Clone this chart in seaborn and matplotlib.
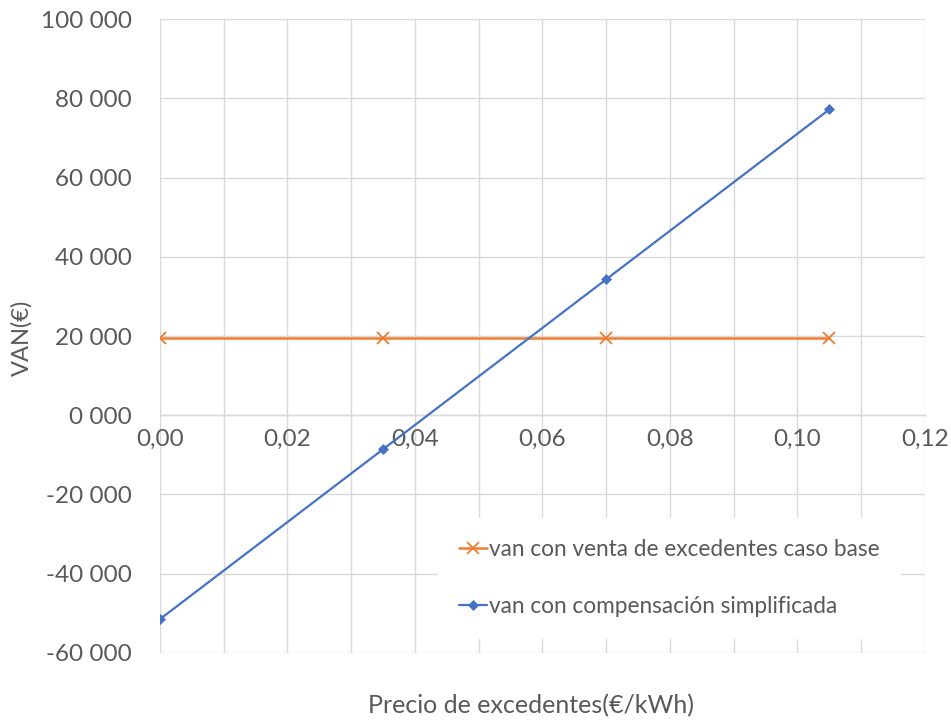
import matplotlib
matplotlib.use("Agg")
import matplotlib.pyplot as plt
import matplotlib.ticker as mticker
import pandas as pd
import seaborn as sns

# Precio de excedentes (€/kWh)
precio = [0.0, 0.035, 0.07, 0.105]
# VAN de cada escenario (€)
van_venta_base = [19400, 19400, 19400, 19400]
van_compensacion = [-51500, -8600, 34300, 77200]

serie_base = "van con venta de excedentes caso base"
serie_comp = "van con compensación simplificada"

df_base = pd.DataFrame({"precio": precio, "van": van_venta_base})
df_comp = pd.DataFrame({"precio": precio, "van": van_compensacion})

sns.set_theme(style="white")
plt.rcParams["font.family"] = ["Lato", "DejaVu Sans"]
text_color = "#595959"
grid_color = "#d9d9d9"
orange = "#ED7D31"
blue = "#4472C4"

fig = plt.figure(figsize=(9.51, 7.22), dpi=100)
ax = fig.add_axes([0.168, 0.0956, 0.8047, 0.878])

sns.lineplot(data=df_base, x="precio", y="van", color=orange, marker="x",
             markersize=8.5, markeredgewidth=1.3, markeredgecolor=orange,
             linewidth=1.8, label=serie_base, ax=ax, zorder=3)
sns.lineplot(data=df_comp, x="precio", y="van", color=blue, marker="D",
             markersize=5, markeredgewidth=0.5, markeredgecolor=blue,
             linewidth=1.6, label=serie_comp, ax=ax, zorder=3)

ax.set_xlim(0, 0.12)
ax.set_ylim(-60000, 100000)
ax.xaxis.set_major_locator(mticker.MultipleLocator(0.02))
ax.xaxis.set_minor_locator(mticker.MultipleLocator(0.01))
ax.yaxis.set_major_locator(mticker.MultipleLocator(20000))


def fmt_y(v, pos):
    n = int(round(v / 1000))
    sign = "-" if n < 0 else ""
    return f"{sign}{abs(n)} 000"


def fmt_x(v, pos):
    return f"{v:.2f}".replace(".", ",")


ax.yaxis.set_major_formatter(mticker.FuncFormatter(fmt_y))
ax.xaxis.set_major_formatter(mticker.FuncFormatter(fmt_x))

ax.grid(True, which="both", axis="x", color=grid_color, linewidth=1)
ax.grid(True, which="major", axis="y", color=grid_color, linewidth=1)
ax.set_axisbelow(True)
for side in ["top", "right", "left"]:
    ax.spines[side].set_visible(False)
ax.spines["bottom"].set_position(("data", 0))
ax.spines["bottom"].set_color(grid_color)
ax.spines["bottom"].set_linewidth(1)

ax.tick_params(axis="both", which="both", length=0, labelsize=17.5, colors=text_color)
ax.tick_params(axis="x", pad=10)
ax.tick_params(axis="y", pad=20)

ax.set_xlabel("")
ax.set_ylabel("")
fig.text(0.023, 0.532, "VAN(€)", rotation=90, ha="center", va="center",
         fontsize=17, color=text_color)
fig.text(0.558, 0.022, "Precio de excedentes(€/kWh)", ha="center", va="center",
         fontsize=18, color=text_color)

leg = ax.legend(loc="upper left", bbox_to_anchor=(0.449, 0.298), bbox_transform=fig.transFigure,
                frameon=True, facecolor="white", edgecolor="white", framealpha=1,
                fontsize=16.3, handlelength=1.25, handletextpad=0.1, labelspacing=1.62,
                borderpad=0.9, fancybox=False)
for t in leg.get_texts():
    t.set_color(text_color)

fig.savefig("out.png", dpi=100, facecolor="white")
